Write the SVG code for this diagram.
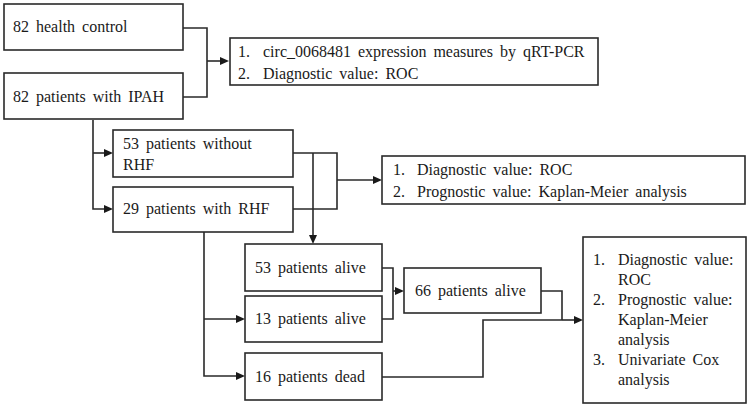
<svg xmlns="http://www.w3.org/2000/svg" width="750" height="408" viewBox="0 0 750 408">
<rect x="0" y="0" width="750" height="408" fill="#fff"/>
<g id="connectors" fill="none" stroke="#2a2a2a" stroke-width="1.6">
<path d="M183,28 H207 V97 H183"/>
<path d="M207,61 H221"/>
<path d="M93,120 V209 H105"/>
<path d="M93,153 H105"/>
<path d="M293,153 H337 V209 H293"/>
<path d="M337,180 H374"/>
<path d="M313,153 V236"/>
<path d="M204,232 V376 H237"/>
<path d="M204,319 H237"/>
<path d="M382,268 H393 V319 H382"/>
<path d="M393,291 H396"/>
<path d="M541,291 H562 V320"/>
<path d="M382,377 H483 V320 H562"/>
<path d="M562,320 H575"/>
<g fill="#1a1a1a" stroke="none">
<path d="M229,61 l-9,-4 v8 z"/>
<path d="M113,209 l-9,-4 v8 z"/>
<path d="M113,153 l-9,-4 v8 z"/>
<path d="M382,180 l-9,-4 v8 z"/>
<path d="M313,244 l-4,-9 h8 z"/>
<path d="M245,376 l-9,-4 v8 z"/>
<path d="M245,319 l-9,-4 v8 z"/>
<path d="M404,291 l-9,-4 v8 z"/>
<path d="M583,320 l-9,-4 v8 z"/>
</g>
</g>
<g fill="#fff" stroke="#2a2a2a" stroke-width="1.6">
<rect id="r1" x="4" y="4" width="179" height="46"/>
<rect id="r2" x="4" y="73" width="179" height="46"/>
<rect id="r3" x="230" y="38" width="368" height="47"/>
<rect id="r4" x="113" y="130" width="180" height="47"/>
<rect id="r5" x="113" y="187" width="180" height="45"/>
<rect id="r6" x="382" y="156" width="363" height="48"/>
<rect id="r7" x="245" y="244" width="137" height="47"/>
<rect id="r8" x="245" y="296" width="137" height="46"/>
<rect id="r9" x="245" y="353" width="137" height="47"/>
<rect id="r10" x="404" y="268" width="137" height="45"/>
<rect id="r11" x="583" y="237" width="163" height="166"/>
</g>
<g id="labels" font-family="Liberation Serif" font-size="16" fill="#1a1a1a" word-spacing="3">
<text x="13" y="32">82 health control</text>
<text x="13" y="102">82 patients with IPAH</text>
<text x="238" y="57">1.</text><text x="263" y="57">circ_0068481 expression measures by qRT-PCR</text><text x="238" y="79">2.</text><text x="263" y="79">Diagnostic value: ROC</text>
<text x="123" y="149">53 patients without</text><text x="123" y="170">RHF</text>
<text x="123" y="214">29 patients with RHF</text>
<text x="393" y="175">1.</text><text x="417" y="175">Diagnostic value: ROC</text><text x="393" y="197">2.</text><text x="417" y="197">Prognostic value: Kaplan-Meier analysis</text>
<text x="255" y="273">53 patients alive</text>
<text x="255" y="324">13 patients alive</text>
<text x="255" y="382">16 patients dead</text>
<text x="415" y="296">66 patients alive</text>
<text x="593" y="265">1.</text><text x="618" y="265">Diagnostic value:</text><text x="618" y="285">ROC</text><text x="593" y="305">2.</text><text x="618" y="305">Prognostic value:</text><text x="618" y="325">Kaplan-Meier</text><text x="618" y="345">analysis</text><text x="593" y="365">3.</text><text x="618" y="365">Univariate Cox</text><text x="618" y="385">analysis</text>
</g>
</svg>
